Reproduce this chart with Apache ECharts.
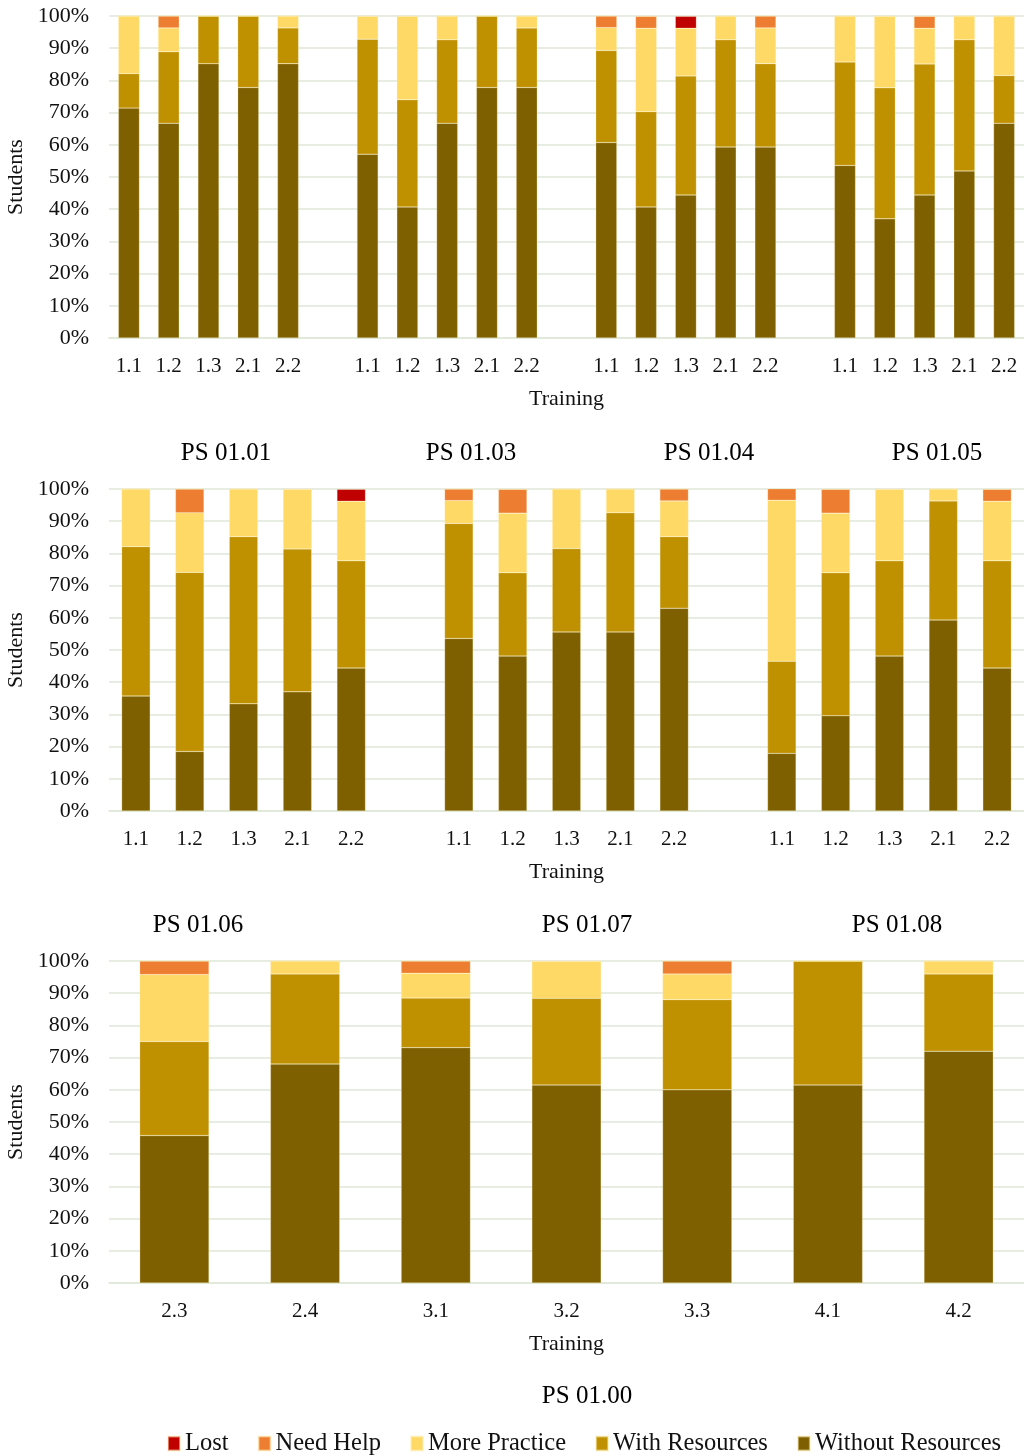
<!DOCTYPE html>
<html>
<head>
<meta charset="utf-8">
<script src="https://cdn.jsdelivr.net/npm/echarts@6/dist/echarts.min.js"></script>
<style>
html,body{margin:0;padding:0;background:#fff;overflow:hidden;}
#chart{width:1024px;height:1456px;}
</style>
</head>
<body>
<div id="chart"></div>
<script>
// ---- Data ----
var seriesNames = ['Without Resources', 'With Resources', 'More Practice', 'Need Help', 'Lost'];
var legendOrder = ['Lost', 'Need Help', 'More Practice', 'With Resources', 'Without Resources'];
var colors = {
  'Lost': '#C00000',
  'Need Help': '#ED7D31',
  'More Practice': '#FFD966',
  'With Resources': '#BF9000',
  'Without Resources': '#7F6000'
};

// Panel 1: PS 01.01, PS 01.03, PS 01.04, PS 01.05 (blank slot between groups)
var cats1 = ['1.1','1.2','1.3','2.1','2.2','', '1.1','1.2','1.3','2.1','2.2','', '1.1','1.2','1.3','2.1','2.2','', '1.1','1.2','1.3','2.1','2.2'];
var titles1 = ['PS 01.01', 'PS 01.03', 'PS 01.04', 'PS 01.05'];
var p1Without = [71.4,66.7,85.2,77.8,85.2,null, 57.1,40.7,66.7,77.8,77.8,null, 60.7,40.7,44.4,59.3,59.3,null, 53.6,37.0,44.4,51.9,66.7];
var p1With    = [10.7,22.2,14.8,22.2,11.1,null, 35.7,33.3,25.9,22.2,18.5,null, 28.6,29.6,37.0,33.3,25.9,null, 32.1,40.7,40.7,40.7,14.8];
var p1More    = [17.9,7.4,0,0,3.7,null, 7.1,25.9,7.4,0,3.7,null, 7.1,25.9,14.8,7.4,11.1,null, 14.3,22.2,11.1,7.4,18.5];
var p1Help    = [0,3.7,0,0,0,null, 0,0,0,0,0,null, 3.6,3.7,0,0,3.7,null, 0,0,3.7,0,0];
var p1Lost    = [0,0,0,0,0,null, 0,0,0,0,0,null, 0,0,3.7,0,0,null, 0,0,0,0,0];

// Panel 2: PS 01.06, PS 01.07, PS 01.08
var cats2 = ['1.1','1.2','1.3','2.1','2.2','', '1.1','1.2','1.3','2.1','2.2','', '1.1','1.2','1.3','2.1','2.2'];
var titles2 = ['PS 01.06', 'PS 01.07', 'PS 01.08'];
var p2Without = [35.7,18.5,33.3,37.0,44.4,null, 53.6,48.1,55.6,55.6,63.0,null, 17.9,29.6,48.1,59.3,44.4];
var p2With    = [46.4,55.6,51.9,44.4,33.3,null, 35.7,25.9,25.9,37.0,22.2,null, 28.6,44.4,29.6,37.0,33.3];
var p2More    = [17.9,18.5,14.8,18.5,18.5,null, 7.1,18.5,18.5,7.4,11.1,null, 50.0,18.5,22.2,3.7,18.5];
var p2Help    = [0,7.4,0,0,0,null, 3.6,7.4,0,0,3.7,null, 3.6,7.4,0,0,3.7];
var p2Lost    = [0,0,0,0,3.7,null, 0,0,0,0,0,null, 0,0,0,0,0];

// Panel 3: PS 01.00
var cats3 = ['2.3','2.4','3.1','3.2','3.3','4.1','4.2'];
var titles3 = ['PS 01.00'];
var p3Without = [45.8,68.0,73.1,61.5,60.0,61.5,72.0];
var p3With    = [29.2,28.0,15.4,26.9,28.0,38.5,24.0];
var p3More    = [20.8,4.0,7.7,11.5,8.0,0,4.0];
var p3Help    = [4.2,0,3.8,0,4.0,0,0];
var p3Lost    = [0,0,0,0,0,0,0];

var yTicks = [0,10,20,30,40,50,60,70,80,90,100];

// ---- Chart ----
var FONT = "'Liberation Serif', 'Times New Roman', serif";
var gridColor = '#dfe7d8';
var panels = [
  {cats: cats1, data: [p1Without, p1With, p1More, p1Help, p1Lost], top: 16},
  {cats: cats2, data: [p2Without, p2With, p2More, p2Help, p2Lost], top: 489},
  {cats: cats3, data: [p3Without, p3With, p3More, p3Help, p3Lost], top: 961}
];
var grids = [], xAxes = [], yAxes = [], series = [];
panels.forEach(function (p, i) {
  grids.push({left: 109, width: 915, top: p.top, height: 322, containLabel: false, outerBoundsMode: 'none'});
  xAxes.push({
    type: 'category', gridIndex: i, data: p.cats,
    name: 'Training', nameLocation: 'middle', nameGap: 50,
    nameTextStyle: {fontFamily: FONT, fontSize: 22, color: '#111'},
    axisTick: {show: false},
    axisLine: {lineStyle: {color: gridColor, width: 1.5}},
    axisLabel: {fontFamily: FONT, fontSize: 21, color: '#111', margin: 18, interval: 0}
  });
  yAxes.push({
    type: 'value', gridIndex: i, min: yTicks[0], max: yTicks[yTicks.length - 1], interval: 10,
    name: 'Students', nameLocation: 'middle', nameGap: 78,
    nameTextStyle: {fontFamily: FONT, fontSize: 22, color: '#111'},
    axisLabel: {fontFamily: FONT, fontSize: 22, color: '#111', margin: 20, formatter: '{value}%'},
    axisLine: {show: false}, axisTick: {show: false},
    splitLine: {lineStyle: {color: gridColor, width: 1.5}}
  });
  seriesNames.forEach(function (name, k) {
    series.push({
      name: name, type: 'bar', stack: 'p' + i, xAxisIndex: i, yAxisIndex: i,
      barWidth: '53%', data: p.data[k],
      itemStyle: {color: colors[name], borderColor: 'rgba(255,240,180,0.5)', borderWidth: 0.5},
      emphasis: {disabled: true}
    });
  });
});

var titleSpecs = [
  {texts: titles1, xs: [226, 471, 709, 937], y: 453},
  {texts: titles2, xs: [198, 587, 897], y: 925},
  {texts: titles3, xs: [587], y: 1396}
];
var graphics = [];
titleSpecs.forEach(function (t) {
  t.texts.forEach(function (txt, j) {
    graphics.push({
      type: 'text', x: t.xs[j], y: t.y,
      style: {text: txt, fontFamily: FONT, fontSize: 25, fill: '#000', textAlign: 'center', textVerticalAlign: 'middle'}
    });
  });
});

var chart = echarts.init(document.getElementById('chart'), null, {renderer: 'canvas'});
chart.setOption({
  backgroundColor: '#fff',
  animation: false,
  grid: grids, xAxis: xAxes, yAxis: yAxes, series: series,
  graphic: graphics,
  legend: {
    data: legendOrder, left: 162, top: 1426, itemWidth: 12, itemHeight: 14, itemGap: 29,
    icon: 'rect',
    textStyle: {fontFamily: FONT, fontSize: 24.5, color: '#111'}
  }
});
</script>
</body>
</html>
